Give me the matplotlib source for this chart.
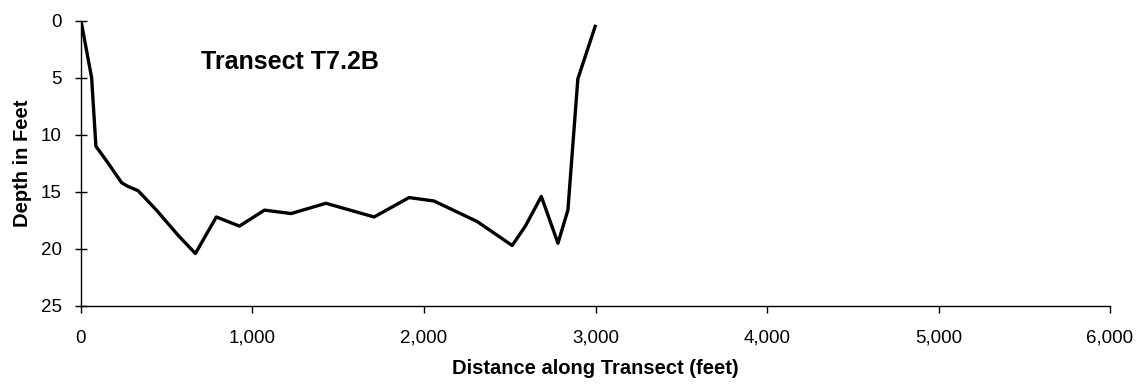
import matplotlib
matplotlib.use("Agg")
import matplotlib.pyplot as plt
from matplotlib.ticker import FuncFormatter

# transect profile
distance_ft = [0, 62, 87, 159, 237, 271, 333, 440, 566, 667, 789, 924, 1070,
               1225, 1428, 1709, 1913, 2058, 2310, 2514, 2591, 2684, 2781,
               2839, 2897, 2998]
depth_ft = [0, 5.0, 11.0, 12.5, 14.2, 14.5, 14.9, 16.6, 18.8, 20.4, 17.2, 18.0,
            16.6, 16.9, 16.0, 17.2, 15.5, 15.8, 17.6, 19.7, 18.0, 15.4, 19.5,
            16.6, 5.1, 0.5]

x_ticks = [0, 1000, 2000, 3000, 4000, 5000, 6000]
y_ticks = [0, 5, 10, 15, 20, 25]

plt.rcParams["font.family"] = ["Liberation Sans", "DejaVu Sans"]

fig = plt.figure(figsize=(11.44, 3.9), dpi=100)
ax = fig.add_axes([0.0708, 0.2154, 0.8995, 0.7316])

ax.plot(distance_ft, depth_ft, color="black", linewidth=2.4)

ax.set_xlim(0, 6000)
ax.set_ylim(25, 0)
ax.set_xticks(x_ticks)
ax.set_yticks(y_ticks)
ax.xaxis.set_major_formatter(FuncFormatter(lambda v, p: f"{int(v):,}"))

for side in ["top", "right"]:
    ax.spines[side].set_visible(False)
for side in ["left", "bottom"]:
    ax.spines[side].set_linewidth(1.0)

ax.tick_params(axis="x", direction="out", length=5, width=1, labelsize=13.5, pad=12)
ax.tick_params(axis="y", direction="inout", length=8, width=1, labelsize=13.5, pad=10)

ax.set_xlabel("Distance along Transect (feet)", fontsize=14.5, fontweight="bold",
              labelpad=9)
ax.set_ylabel("Depth in Feet", fontsize=14.5, fontweight="bold", labelpad=6)

ax.text(700, 3.6, "Transect T7.2B", fontsize=18, fontweight="bold",
        ha="left", va="center")

fig.savefig("out.png", dpi=100)
